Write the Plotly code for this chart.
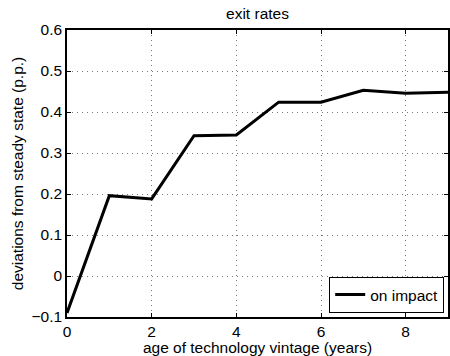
import plotly.graph_objects as go

# Exit-rate response by age of technology vintage
ages = [0, 1, 2, 3, 4, 5, 6, 7, 8, 9]
on_impact = [-0.09, 0.196, 0.188, 0.342, 0.344, 0.424, 0.424, 0.453, 0.446, 0.448]

x_ticks = [0, 2, 4, 6, 8]
y_ticks = [-0.1, 0, 0.1, 0.2, 0.3, 0.4, 0.5, 0.6]
y_tick_text = ["\u22120.1", "0", "0.1", "0.2", "0.3", "0.4", "0.5", "0.6"]

FONT = "Liberation Sans, Arial, sans-serif"
FS = 15.5

fig = go.Figure()
fig.add_trace(go.Scatter(
    x=ages, y=on_impact, mode="lines", name="on impact",
    line=dict(color="black", width=3),
))

axis_common = dict(
    showline=True, linecolor="black", linewidth=1.6, mirror="ticks",
    ticks="inside", ticklen=4, tickcolor="black",
    showgrid=True, gridcolor="#777777", griddash="1px,4px", gridwidth=1,
    zeroline=False,
    tickfont=dict(family=FONT, size=FS, color="black"),
)

fig.update_layout(
    width=450, height=356,
    margin=dict(l=67, r=0, t=30, b=39),
    paper_bgcolor="white", plot_bgcolor="white",
    font=dict(family=FONT, size=FS, color="black"),
    title=dict(text="exit rates", x=0.5, xref="paper", xanchor="center",
               y=1 - 14 / 356, yref="container", yanchor="middle",
               font=dict(family=FONT, size=FS, color="black")),
    showlegend=True,
    legend=dict(x=0.99, y=0.014, xanchor="right", yanchor="bottom",
                bgcolor="white", bordercolor="black", borderwidth=1,
                font=dict(family=FONT, size=FS, color="black"),
                tracegroupgap=0, itemwidth=30),
    xaxis=dict(range=[0, 9], tickvals=x_ticks,
               title=dict(text="age of technology vintage (years)", standoff=4,
                          font=dict(family=FONT, size=FS)),
               **axis_common),
    yaxis=dict(range=[-0.1, 0.6], tickvals=y_ticks, ticktext=y_tick_text,
               title=dict(text="deviations from steady state (p.p.)", standoff=4,
                          font=dict(family=FONT, size=FS)),
               **axis_common),
)

fig.write_html("out.html")
